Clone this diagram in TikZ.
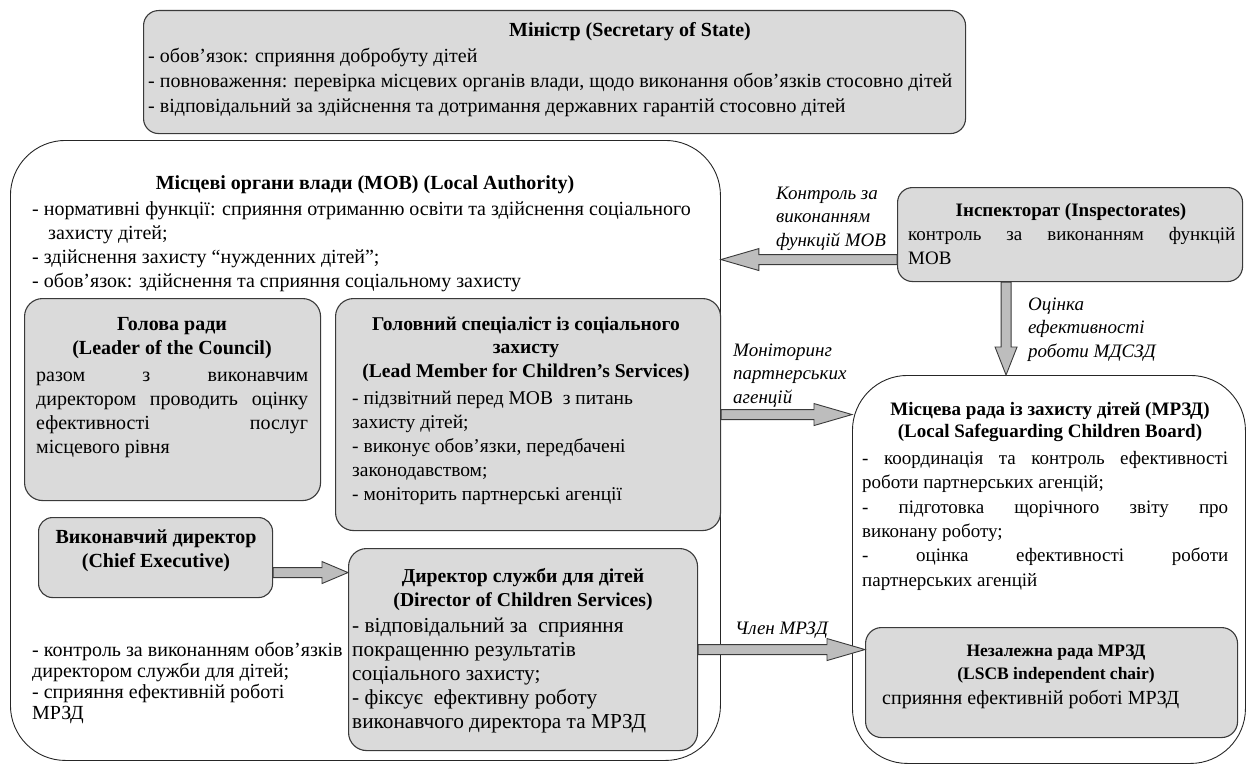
\documentclass[tikz,border=0pt]{standalone}
\usepackage{fontspec}
\setmainfont{Liberation Serif}
\usetikzlibrary{calc}
\definecolor{boxgray}{HTML}{DADADA}
\definecolor{edgegray}{HTML}{3A3A3A}
\definecolor{arrgray}{HTML}{BDBDBD}
\newcommand\jl[2]{\makebox[#1][s]{#2}}
% block arrows: start, end, head length
\newcommand\hblock[3]{%
\path[blockarrow] let \p1=(#1), \p2=(#2), \n1={ifthenelse(\x2>\x1,-#3,#3)} in
 (\x1,{\y1+5pt}) -- ({\x2+\n1*1pt},{\y1+5pt}) -- ({\x2+\n1*1pt},{\y1+11pt}) -- (\x2,\y1)
 -- ({\x2+\n1*1pt},{\y1-11pt}) -- ({\x2+\n1*1pt},{\y1-5pt}) -- (\x1,{\y1-5pt}) -- cycle;}
\newcommand\vblock[3]{%
\path[blockarrow] let \p1=(#1), \p2=(#2), \n1={ifthenelse(\y2>\y1,-#3,#3)} in
 ({\x1+5pt},\y1) -- ({\x1+5pt},{\y2+\n1*1pt}) -- ({\x1+11pt},{\y2+\n1*1pt}) -- (\x1,\y2)
 -- ({\x1-11pt},{\y2+\n1*1pt}) -- ({\x1-5pt},{\y2+\n1*1pt}) -- ({\x1-5pt},\y1) -- cycle;}
\begin{document}
\begin{tikzpicture}[x=1pt,y=-1pt,
  graybox/.style={draw=edgegray, fill=boxgray, line width=1.1pt, rounded corners=18pt, inner sep=0pt, anchor=north west},
  whitebox/.style={draw=black!85, fill=white, line width=0.9pt, rounded corners=55pt, inner sep=0pt, anchor=north west},
  blockarrow/.style={draw=edgegray, fill=arrgray, line width=0.9pt},
  txt/.style={inner sep=0pt, anchor=base west, align=left},
  ttl/.style={inner sep=0pt, align=center},
  lbl/.style={inner sep=0pt, font=\itshape\fontsize{19}{23.5}\selectfont, anchor=base west, align=left}
]
\useasboundingbox (0,0) rectangle (1249,765);

% boxes
\node[graybox, rounded corners=15pt, minimum width=822pt, minimum height=123pt] (MIN) at (143,10) {};
\node[whitebox, minimum width=710pt, minimum height=620pt] (MOB) at (10,140) {};
\node[graybox, rounded corners=15pt, minimum width=345pt, minimum height=94pt] (INS) at (897,187) {};
\node[whitebox, minimum width=393pt, minimum height=388pt] (MRZD) at (852,375) {};
\node[graybox, minimum width=296pt, minimum height=202pt] (LEAD) at (24,298) {};
\node[graybox, minimum width=385pt, minimum height=232pt] (LM) at (335,298) {};
\node[graybox, rounded corners=14pt, minimum width=234pt, minimum height=80pt] (CE) at (38,517) {};
\node[graybox, minimum width=349pt, minimum height=202pt] (DIR) at (348,548) {};
\node[graybox, rounded corners=16pt, minimum width=372pt, minimum height=110pt] (LSCB) at (865,627) {};

% Minister
\node[ttl, font=\bfseries\fontsize{20}{24}\selectfont] (tMIN) at (630,32) {Міністр (Secretary of State)};
\node[txt, font=\fontsize{20}{25}\selectfont] (lMIN) at (148,113) {- обов’язок: сприяння добробуту дітей\\
- повноваження: перевірка місцевих органів влади, щодо виконання обов’язків стосовно дітей\\
- відповідальний за здійснення та дотримання державних гарантій стосовно дітей};

% Local authority
\node[ttl, font=\bfseries\fontsize{20}{24}\selectfont] (tMOB) at (365,185) {Місцеві органи влади (МОВ) (Local Authority)};
\node[txt, font=\fontsize{20}{24}\selectfont] (lMOB) at (32,287) {- нормативні функції: сприяння отриманню освіти та здійснення соціального\\
\hspace*{16pt}захисту дітей;\\
- здійснення захисту “нужденних дітей”;\\
- обов’язок: здійснення та сприяння соціальному захисту};

% Leader
\node[ttl, font=\bfseries\fontsize{20}{24}\selectfont] (tLEAD) at (172,338) {Голова ради\\(Leader of the Council)};
\node[txt, font=\fontsize{20}{24}\selectfont] (lLEAD) at (36,453) {\jl{272pt}{разом з виконавчим}\\
\jl{272pt}{директором проводить оцінку}\\
\jl{272pt}{ефективності послуг}\\
місцевого рівня};

% Lead member
\node[ttl, font=\bfseries\fontsize{19.5}{23.5}\selectfont] (tLM) at (526,349) {Головний спеціаліст із соціального\\захисту\\(Lead Member for Children’s Services)};
\node[txt, font=\fontsize{19.5}{24}\selectfont] (lLM) at (352,500) {- підзвітний перед МОВ\ \ з питань\\
захисту дітей;\\
- виконує обов’язки, передбачені\\
законодавством;\\
- моніторить партнерські агенції};

% Chief executive
\node[ttl, font=\bfseries\fontsize{20}{24}\selectfont] (tCE) at (156,551) {Виконавчий директор\\(Chief Executive)};

% Director
\node[ttl, font=\bfseries\fontsize{19.7}{24}\selectfont] (tDIR) at (523,590) {Директор служби для дітей\\(Director of Children Services)};
\node[txt, font=\fontsize{21.3}{23.8}\selectfont] (lDIR) at (352,728) {- відповідальний за\ \ сприяння\\
покращенню результатів\\
соціального захисту;\\
- фіксує\ \ ефективну роботу\\
виконавчого директора та МРЗД};

\node[txt, font=\fontsize{20}{21}\selectfont] (lBL) at (32,719) {- контроль за виконанням обов’язків\\
директором служби для дітей;\\
- сприяння ефективній роботі\\
МРЗД};

% Inspectorate
\node[ttl, font=\bfseries\fontsize{19}{24}\selectfont] (tINS) at (1071,212) {Інспекторат (Inspectorates)};
\node[txt, font=\fontsize{19}{24.5}\selectfont] (lINS) at (908,264.5) {\jl{327pt}{контроль за виконанням функцій}\\МОВ};

% Local Safeguarding Children Board
\node[ttl, font=\bfseries\fontsize{19}{22.5}\selectfont] (tMRZD) at (1050,422) {Місцева рада із захисту дітей (МРЗД)\\(Local Safeguarding Children Board)};
\node[txt, font=\fontsize{19}{24.3}\selectfont] (lMRZD) at (862,586) {\jl{366pt}{- координація та контроль ефективності}\\
роботи партнерських агенцій;\\
\jl{366pt}{- підготовка щорічного звіту про}\\
виконану роботу;\\
\jl{366pt}{- оцінка ефективності роботи}\\
партнерських агенцій};

% LSCB chair
\node[ttl, font=\bfseries\fontsize{17.5}{23.5}\selectfont] (tLSCB) at (1056,664) {Незалежна рада МРЗД\\(LSCB independent chair)};
\node[txt, font=\fontsize{20}{24}\selectfont] (lLSCB) at (882,704) {сприяння ефективній роботі МРЗД};

% labels
\node[lbl] (k1) at (776,246) {Контроль за\\виконанням\\функцій МОВ};
\node[lbl] (k2) at (1028,357) {Оцінка\\ефективності\\роботи МДСЗД};
\node[lbl] (k3) at (733,403) {Моніторинг\\партнерських\\агенцій};
\node[lbl] (k4) at (735,634) {Член МРЗД};

% arrows
\coordinate (a1s) at ([yshift=-25pt]INS.west);
\coordinate (a1e) at (a1s -| MOB.east);
\hblock{a1s}{a1e}{38}
\coordinate (a2s) at ([xshift=-64pt]INS.south);
\coordinate (a2e) at (a2s |- MRZD.north);
\vblock{a2s}{a2e}{28}
\coordinate (a3s) at (LM.east);
\coordinate (a3e) at (a3s -| MRZD.west);
\hblock{a3s}{a3e}{38}
\coordinate (a4s) at ([yshift=-15pt]CE.east);
\coordinate (a4e) at (a4s -| DIR.west);
\hblock{a4s}{a4e}{26}
\coordinate (a5s) at (DIR.east);
\coordinate (a5e) at (a5s -| LSCB.west);
\hblock{a5s}{a5e}{38}
\end{tikzpicture}
\end{document}
